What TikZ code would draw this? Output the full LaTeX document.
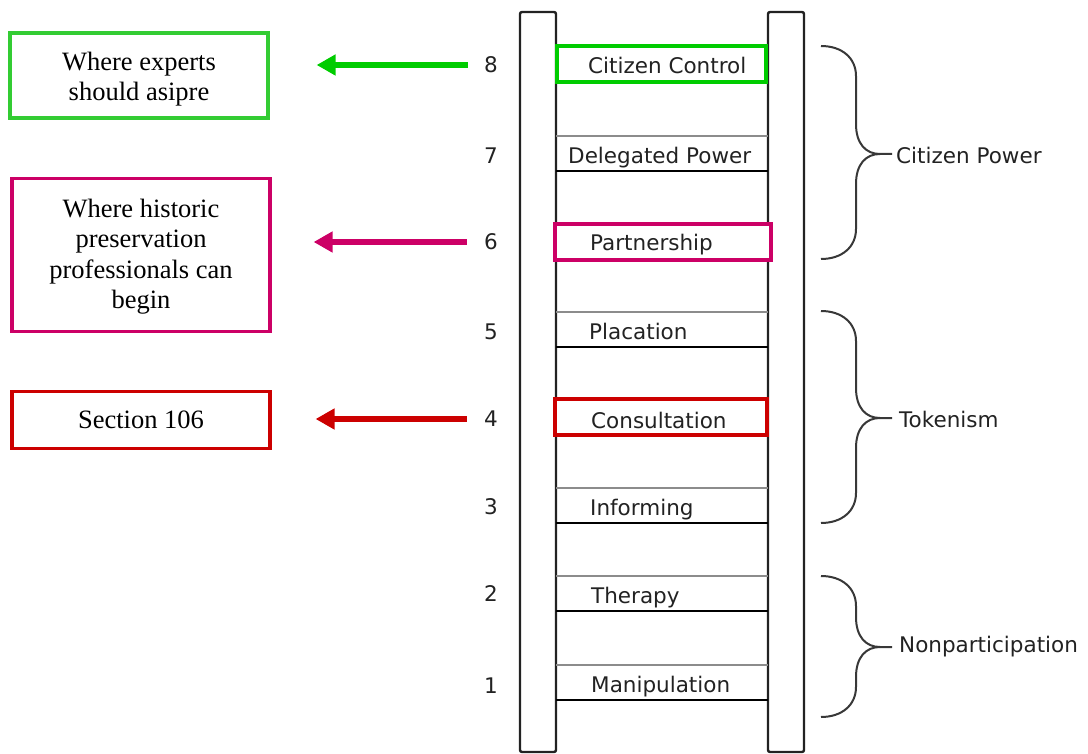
\documentclass[tikz,border=0pt]{standalone}
\usepackage{fontspec}
\setmainfont{Liberation Serif}
\newfontfamily\dv{DejaVu Sans}
\usetikzlibrary{arrows.meta,calc}
\definecolor{arrgreen}{RGB}{0,204,0}
\definecolor{boxgreen}{RGB}{51,204,51}
\definecolor{mag}{RGB}{204,0,102}
\definecolor{redc}{RGB}{204,0,0}
\definecolor{rungtop}{RGB}{140,140,140}
\definecolor{ink}{RGB}{34,34,34}
\tikzset{
  rail/.style={draw=ink, line width=2.4pt, rounded corners=2pt, fill=white},
  rungup/.style={draw=rungtop, line width=2.2pt},
  rungdown/.style={draw=black, line width=2.6pt},
  rungtext/.style={font=\dv\fontsize{21.5}{24}\selectfont, text=ink, inner sep=0pt, anchor=base west},
  numtext/.style={font=\dv\fontsize{21.5}{24}\selectfont, text=ink, inner sep=0pt},
  hilite/.style={draw=#1, line width=4pt},
  leftbox/.style={draw=#1, line width=3.2pt, align=center, inner sep=2pt,
     font=\fontsize{26.5}{30.5}\selectfont, minimum width=258pt},
  bracepath/.style={draw=ink!90, line width=2pt},
  bracelab/.style={font=\dv\fontsize{21.5}{24}\selectfont, text=ink, anchor=west, inner sep=0pt},
  bigarrow/.style={draw=#1, line width=6pt, -{Triangle[length=19pt,width=20pt,fill=#1]}}
}
\begin{document}
\begin{tikzpicture}[x=1pt,y=-1pt]
\useasboundingbox (0,0) rectangle (1088,754);
% rails
\draw[rail] (520,12) rectangle (556,752);
\draw[rail] (768,12) rectangle (804,752);
% rungs
\foreach \t in {665,576,488,400,312,224,136,47}{
  \draw[rungup] (556,\t) -- (768,\t);
  \draw[rungdown] (556,\t+35) -- (768,\t+35);
}
% highlight boxes
\draw[hilite=arrgreen, fill=white] (557,46) rectangle (766,82);
\draw[hilite=mag, fill=white] (555,224) rectangle (771,260);
\draw[hilite=redc, fill=white] (555,399) rectangle (767,435);
% rung labels
\node[rungtext] (r8) at (588,74) {Citizen Control};
\node[rungtext] (r7) at (568,164) {Delegated Power};
\node[rungtext] (r6) at (590,251) {Partnership};
\node[rungtext] (r5) at (589,340) {Placation};
\node[rungtext] (r4) at (591,428) {Consultation};
\node[rungtext] (r3) at (590,515) {Informing};
\node[rungtext] (r2) at (591,603) {Therapy};
\node[rungtext] (r1) at (591,692) {Manipulation};
% numbers
\node[numtext] (n8) at (491,65) {8};
\node[numtext] (n7) at (491,156) {7};
\node[numtext] (n6) at (491,242) {6};
\node[numtext] (n5) at (491,332) {5};
\node[numtext] (n4) at (491,419) {4};
\node[numtext] (n3) at (491,507) {3};
\node[numtext] (n2) at (491,594) {2};
\node[numtext] (n1) at (491,686) {1};
% braces
\draw[bracepath] (821,46) .. controls (842,46) and (856,58) .. (856,76) -- (856,124)
  .. controls (856,144) and (866,154) .. (880,154) -- (892,154);
\draw[bracepath] (821,259) .. controls (842,259) and (856,247) .. (856,229) -- (856,184)
  .. controls (856,164) and (866,154) .. (880,154);
\draw[bracepath] (821,311) .. controls (842,311) and (856,323) .. (856,341) -- (856,388)
  .. controls (856,408) and (866,418) .. (880,418) -- (892,418);
\draw[bracepath] (821,523) .. controls (842,523) and (856,511) .. (856,493) -- (856,448)
  .. controls (856,428) and (866,418) .. (880,418);
\draw[bracepath] (821,576) .. controls (842,576) and (856,588) .. (856,606) -- (856,617)
  .. controls (856,637) and (866,647) .. (880,647) -- (892,647);
\draw[bracepath] (821,717) .. controls (842,717) and (856,705) .. (856,687) -- (856,677)
  .. controls (856,657) and (866,647) .. (880,647);
\node[bracelab] (cp) at (896,155) {Citizen Power};
\node[bracelab] (tk) at (899,419) {Tokenism};
\node[bracelab] (np) at (899,647) {Nonparticipation};
% left boxes
\node[leftbox=boxgreen, minimum height=85pt] (g) at (139,75.5) {\rule{0pt}{26pt}Where experts\\should asipre};
\node[leftbox=mag, minimum height=153pt] (m) at (141,255) {\rule{0pt}{22pt}Where historic\\preservation\\professionals can\\begin};
\node[leftbox=redc, minimum height=57pt] (rd) at (141,420) {Section 106};
% arrows
\draw[bigarrow=arrgreen, shorten <=16pt, shorten >=47pt] (n8.west) -- (n8.west -| g.east);
\draw[bigarrow=mag, shorten <=17pt, shorten >=42pt] (n6.west) -- (n6.west -| m.east);
\draw[bigarrow=redc, shorten <=17pt, shorten >=44pt] (n4.west) -- (n4.west -| rd.east);
\end{tikzpicture}
\end{document}
